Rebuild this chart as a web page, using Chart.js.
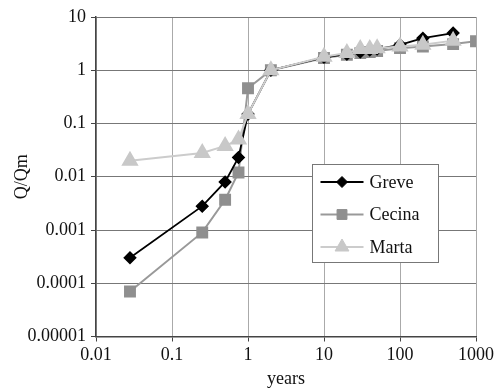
<!DOCTYPE html>
<html lang="en">
<head>
    <meta charset="UTF-8">
    <title>Q/Qm vs years</title>
    <script src="https://cdn.jsdelivr.net/npm/chart.js@4.4.0/dist/chart.umd.min.js"></script>
    <style>
        body { margin: 0; background: #fff; }
        .chart-box { width: 497px; height: 390px; position: relative; }
    </style>
</head>
<body>
    <div class="chart-box">
        <canvas id="flowChart"></canvas>
    </div>

    <script>
        // Data
        const greveYears = [0.028, 0.25, 0.5, 0.75, 1, 2, 10, 20, 30, 40, 50, 100, 200, 500];
        const greveQ = [0.0003, 0.0028, 0.008, 0.023, 0.15, 1, 1.75, 2.0, 2.2, 2.4, 2.5, 3.0, 4.0, 5.0];

        const cecinaYears = [0.028, 0.25, 0.5, 0.75, 1, 2, 10, 20, 30, 40, 50, 100, 200, 500, 1000];
        const cecinaQ = [0.00007, 0.0009, 0.0037, 0.012, 0.46, 1, 1.7, 1.95, 2.1, 2.2, 2.3, 2.6, 2.8, 3.1, 3.5];

        const martaYears = [0.028, 0.25, 0.5, 0.75, 1, 2, 10, 20, 30, 40, 50, 100, 200, 500];
        const martaQ = [0.02, 0.028, 0.038, 0.05, 0.15, 1, 1.8, 2.1, 2.5, 2.5, 2.6, 2.8, 3.0, 3.6];

        const xTicks = [0.01, 0.1, 1, 10, 100, 1000];
        const xTickLabels = ['0.01', '0.1', '1', '10', '100', '1000'];
        const yTicks = [0.00001, 0.0001, 0.001, 0.01, 0.1, 1, 10];
        const yTickLabels = ['0.00001', '0.0001', '0.001', '0.01', '0.1', '1', '10'];

        const toPoints = (xs, ys) => xs.map((x, i) => ({ x: x, y: ys[i] }));
        const FONT = "'Liberation Serif', 'Times New Roman', serif";

        // legend in a white box inside the plot
        const boxLegend = {
            id: 'boxLegend',
            afterDraw(chart) {
                const ctx = chart.ctx;
                const left = 312.5, top = 164.5, w = 126, h = 98;
                ctx.save();
                ctx.fillStyle = '#fff';
                ctx.fillRect(left, top, w, h);
                ctx.strokeStyle = '#777';
                ctx.lineWidth = 1;
                ctx.strokeRect(left, top, w, h);
                ctx.font = '18px ' + FONT;
                ctx.textBaseline = 'middle';
                chart.data.datasets.forEach((ds, i) => {
                    const y = top + 17.5 + i * 32.5;
                    ctx.strokeStyle = ds.borderColor;
                    ctx.lineWidth = ds.borderWidth;
                    ctx.beginPath();
                    ctx.moveTo(left + 8, y);
                    ctx.lineTo(left + 51, y);
                    ctx.stroke();
                    ctx.fillStyle = ds.pointBackgroundColor;
                    ctx.strokeStyle = ds.pointBorderColor;
                    ctx.lineWidth = 1;
                    Chart.helpers.drawPoint(ctx, {
                        pointStyle: ds.pointStyle,
                        radius: ds.pointRadius,
                        borderWidth: 1
                    }, left + 29.5, y);
                    ctx.fillStyle = '#111';
                    ctx.fillText(ds.label, left + 57, y + 1);
                });
                ctx.restore();
            }
        };

        new Chart(document.getElementById('flowChart'), {
            type: 'scatter',
            data: {
                datasets: [{
                    label: 'Greve',
                    data: toPoints(greveYears, greveQ),
                    showLine: true,
                    borderColor: '#000',
                    borderWidth: 1.8,
                    pointStyle: 'rectRot',
                    pointRadius: 5.5,
                    pointBackgroundColor: '#000',
                    pointBorderColor: '#000',
                    order: 1
                }, {
                    label: 'Cecina',
                    data: toPoints(cecinaYears, cecinaQ),
                    showLine: true,
                    borderColor: '#999',
                    borderWidth: 2,
                    pointStyle: 'rect',
                    pointRadius: 7,
                    pointBackgroundColor: '#8f8f8f',
                    pointBorderColor: '#8f8f8f',
                    order: 2
                }, {
                    label: 'Marta',
                    data: toPoints(martaYears, martaQ),
                    showLine: true,
                    borderColor: '#cccccc',
                    borderWidth: 2,
                    pointStyle: 'triangle',
                    pointRadius: 8,
                    pointBackgroundColor: '#c8c8c8',
                    pointBorderColor: '#c8c8c8',
                    order: 0
                }]
            },
            options: {
                animation: false,
                responsive: true,
                maintainAspectRatio: false,
                layout: { padding: { top: 17, right: 20, bottom: 0, left: 0 } },
                plugins: {
                    legend: { display: false },
                    tooltip: { enabled: false }
                },
                scales: {
                    x: {
                        type: 'logarithmic',
                        min: 0.01,
                        max: 1000,
                        afterBuildTicks: (s) => { s.ticks = xTicks.map(v => ({ value: v })); },
                        afterFit: (s) => { s.height = 53.5; },
                        ticks: {
                            autoSkip: false,
                            maxRotation: 0,
                            padding: 3,
                            color: '#111',
                            font: { family: FONT, size: 18 },
                            callback: (v) => xTickLabels[xTicks.indexOf(v)]
                        },
                        grid: { color: '#aaa', tickColor: '#444', tickLength: 5 },
                        border: { color: '#444', width: 1.5 },
                        title: {
                            display: true,
                            text: 'years',
                            color: '#111',
                            font: { family: FONT, size: 18 },
                            padding: { top: 0, bottom: 0 }
                        }
                    },
                    y: {
                        type: 'logarithmic',
                        min: 0.00001,
                        max: 10,
                        afterBuildTicks: (s) => { s.ticks = yTicks.map(v => ({ value: v })); },
                        afterFit: (s) => { s.width = 96; },
                        ticks: {
                            autoSkip: false,
                            padding: 5,
                            color: '#111',
                            font: { family: FONT, size: 18 },
                            callback: (v) => yTickLabels[yTicks.indexOf(v)]
                        },
                        grid: { color: '#777', tickColor: '#444', tickLength: 5 },
                        border: { color: '#444', width: 1.5 },
                        title: {
                            display: true,
                            text: 'Q/Qm',
                            color: '#111',
                            font: { family: FONT, size: 18 },
                            padding: { top: 11, bottom: 0 }
                        }
                    }
                }
            },
            plugins: [boxLegend]
        });
    </script>
</body>
</html>
